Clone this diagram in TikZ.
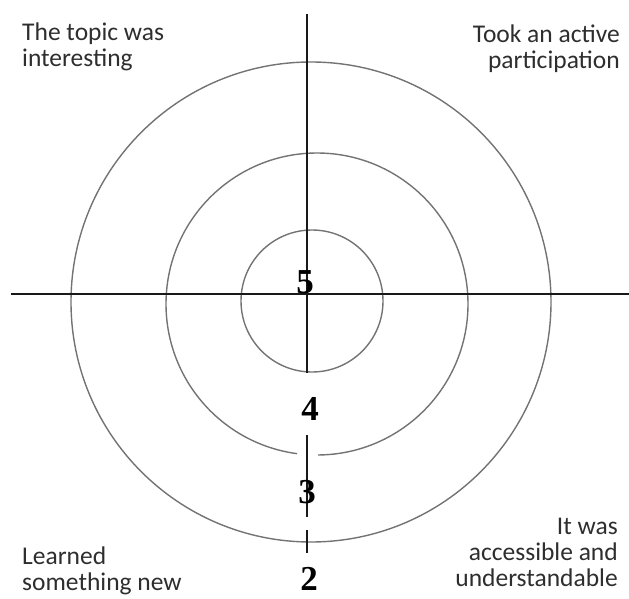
\documentclass[tikz,border=0pt]{standalone}
\usepackage{fontspec}
\setmainfont{Carlito}
\newfontfamily\numfont{Liberation Serif}
\begin{document}
\begin{tikzpicture}[x=1pt,y=-1pt,
  ring/.style={draw=black!55, line width=1.4pt},
  axis/.style={draw=black!90, line width=1.8pt},
  score/.style={font=\numfont\bfseries\fontsize{35}{35}\selectfont, inner sep=0pt, anchor=base},
  caption/.style={font=\fontsize{25.5}{26}\selectfont, text=black!82, inner sep=0pt}]
\useasboundingbox (0,0) rectangle (629,599);

% centres of the three rings
\coordinate (cOuter) at (311,302);
\coordinate (cMid) at (317,304);
\coordinate (cInner) at (312,301);

% rings
\draw[ring] (cOuter) circle[radius=240pt];
\draw[ring] (cMid) ++(270.4:151pt) arc[start angle=270.4, end angle=622.4, radius=151pt];
\draw[ring] (cInner) circle[radius=71pt];

% axes
\coordinate (hL) at (11,294);
\coordinate (hR) at (629,294);
\coordinate (vA) at (307,14);
\coordinate (vB) at (307,373);
\coordinate (vC) at (307,435);
\coordinate (vD) at (307,517);
\coordinate (vE) at (307,530);
\coordinate (vF) at (307,553);
\draw[axis] (hL) -- (hR);
\draw[axis] (vA) -- (vB);
\draw[axis] (vC) -- (vD);
\draw[axis] (vE) -- (vF);

% scale values
\node[score] (n5) at (305,293) {5};
\node[score] (n4) at (310,420) {4};
\node[score] (n3) at (307,503) {3};
\node[score] (n2) at (309,590) {2};

% quadrant captions
\node[caption, anchor=north west, align=left] (tl) at (22,23) {The topic was\\interesting};
\node[caption, anchor=north east, align=right] (tr) at (620,25) {Took an active\\participation};
\node[caption, anchor=north west, align=left] (bl) at (22,547) {Learned\\something new};
\node[caption, anchor=north east, align=right] (br) at (618,518) {It was\\accessible and\\understandable};
\end{tikzpicture}
\end{document}
